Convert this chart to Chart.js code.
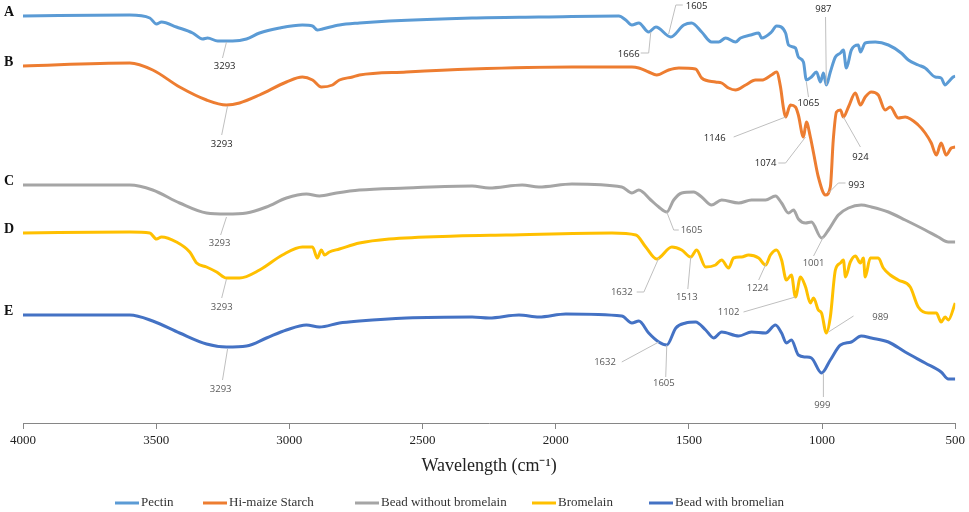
<!DOCTYPE html>
<html>
<head>
<meta charset="utf-8">
<script src="https://cdn.jsdelivr.net/npm/chart.js@4.4.0/dist/chart.umd.min.js"></script>
<style>
    html, body { margin: 0; padding: 0; background: #fff; }
    #wrap { width: 969px; height: 512px; position: relative; }
</style>
</head>
<body>
<div id="wrap"><canvas id="ftir"></canvas></div>
<script>
// wavenumber (cm-1) / relative transmittance (stacked, arbitrary units)
var pectinWn = [4000, 3599, 3524, 3499, 3480, 3424, 3363, 3326, 3307, 3269, 3213, 3161, 3112, 3037, 2951, 2913, 2895, 2876, 2812, 2737, 2625, 2314, 2063, 1763, 1737, 1714, 1688, 1651, 1624, 1568, 1519, 1490, 1452, 1415, 1388, 1362, 1325, 1306, 1268, 1238, 1227, 1190, 1171, 1137, 1126, 1100, 1089, 1070, 1059, 1040, 1021, 1006, 995, 984, 969, 950, 931, 920, 909, 890, 864, 856, 838, 800, 751, 703, 676, 639, 613, 575, 553, 538, 526, 508, 500];
var pectinT = [407, 408, 405, 399, 401, 396, 390, 384, 385, 382, 382, 384, 390, 395, 398, 397, 393, 394, 398, 400, 402, 405, 406, 407, 403, 398, 400, 391, 396, 386, 398, 400, 391, 381, 381, 385, 381, 385, 388, 390, 385, 391, 397, 390, 378, 375, 366, 361, 343, 346, 351, 341, 350, 338, 351, 366, 370, 373, 355, 373, 378, 371, 380, 381, 378, 370, 363, 358, 355, 346, 345, 338, 341, 346, 347];

var starchWn = [4000, 3599, 3513, 3412, 3311, 3236, 3187, 3112, 3011, 2951, 2913, 2880, 2838, 2812, 2763, 2737, 2561, 2314, 1939, 1714, 1688, 1651, 1621, 1576, 1538, 1475, 1452, 1400, 1377, 1351, 1325, 1287, 1250, 1227, 1190, 1171, 1156, 1145, 1137, 1119, 1100, 1089, 1070, 1059, 1044, 1032, 1014, 987, 969, 958, 946, 931, 920, 901, 875, 856, 838, 815, 789, 763, 744, 714, 688, 639, 613, 590, 571, 553, 534, 515, 500];
var starchT = [357, 360, 353, 336, 323, 318, 320, 328, 341, 346, 343, 336, 338, 343, 346, 348, 351, 354, 356, 356, 355, 351, 348, 353, 355, 354, 345, 341, 340, 335, 333, 338, 343, 343, 348, 351, 336, 315, 306, 318, 316, 308, 286, 301, 286, 270, 246, 228, 236, 283, 311, 313, 306, 316, 330, 318, 326, 331, 328, 313, 316, 305, 306, 298, 290, 280, 268, 280, 268, 275, 276];

var beadWn = [4000, 3599, 3513, 3412, 3311, 3236, 3161, 3086, 3011, 2936, 2887, 2823, 2737, 2561, 2314, 2250, 2126, 2063, 1939, 1752, 1714, 1688, 1643, 1613, 1583, 1557, 1527, 1482, 1452, 1415, 1377, 1313, 1265, 1212, 1175, 1152, 1126, 1107, 1089, 1062, 1040, 1002, 976, 939, 901, 853, 815, 751, 688, 613, 564, 526, 500];
var beadT = [238, 238, 233, 220, 210, 209, 210, 216, 225, 229, 227, 230, 233, 235, 237, 235, 238, 236, 239, 236, 230, 233, 223, 216, 211, 223, 230, 231, 226, 218, 223, 220, 223, 223, 227, 220, 210, 213, 204, 200, 201, 185, 193, 208, 215, 218, 216, 211, 203, 193, 186, 181, 181];

var bromelainWn = [4000, 3599, 3524, 3499, 3480, 3424, 3374, 3348, 3311, 3273, 3236, 3187, 3112, 3026, 2951, 2913, 2895, 2880, 2868, 2850, 2812, 2737, 2625, 2374, 2186, 1789, 1699, 1662, 1621, 1564, 1527, 1493, 1471, 1437, 1400, 1377, 1351, 1332, 1302, 1276, 1238, 1212, 1194, 1171, 1152, 1134, 1115, 1100, 1081, 1062, 1044, 1032, 1014, 1002, 984, 969, 950, 931, 920, 912, 894, 875, 856, 845, 838, 819, 789, 770, 744, 714, 669, 639, 601, 571, 553, 538, 526, 500];
var bromelainT = [190, 191, 190, 184, 186, 181, 171, 160, 156, 151, 145, 145, 153, 168, 176, 176, 165, 173, 168, 171, 174, 180, 184, 187, 188, 190, 188, 176, 164, 176, 173, 166, 173, 156, 158, 163, 155, 165, 166, 168, 165, 158, 168, 173, 163, 143, 148, 126, 146, 136, 120, 125, 113, 110, 90, 106, 153, 160, 163, 146, 161, 167, 160, 165, 146, 165, 165, 155, 148, 143, 136, 116, 110, 110, 101, 106, 103, 120];

var beadBromWn = [4000, 3599, 3513, 3412, 3311, 3236, 3161, 3086, 3011, 2936, 2887, 2812, 2737, 2561, 2314, 2250, 2138, 2063, 1962, 1752, 1714, 1688, 1651, 1613, 1583, 1549, 1512, 1475, 1437, 1407, 1377, 1313, 1265, 1212, 1175, 1152, 1134, 1115, 1089, 1062, 1040, 1002, 969, 931, 890, 853, 815, 751, 688, 613, 553, 526, 500];
var beadBromT = [108, 108, 102, 90, 79, 76, 77, 85, 93, 98, 96, 100, 102, 105, 106, 105, 108, 106, 109, 107, 100, 102, 90, 81, 78, 95, 100, 101, 93, 85, 91, 87, 91, 90, 98, 90, 80, 83, 68, 66, 65, 50, 63, 78, 81, 87, 85, 81, 71, 60, 51, 44, 44];

var seriesNames = ['Pectin', 'Hi-maize Starch', 'Bead without bromelain', 'Bromelain', 'Bead with bromelian'];
var seriesLetters = ['A', 'B', 'C', 'D', 'E'];
var xTicks = [4000, 3500, 3000, 2500, 2000, 1500, 1000, 500];

// peak labels: serie, texto, posicao do texto [wn, T], linha guia [[wn, T], ...]
var peakLabels = [
    [0, '3293', [3243, 357], [[3236, 381], [3251, 365]]],
    [0, '1666', [1726, 369], [[1643, 391], [1651, 370], [1681, 370]]],
    [0, '1605', [1471, 417], [[1576, 389], [1549, 418], [1523, 418]]],
    [0, '987', [995, 414], [[987, 406], [984, 338]]],
    [0, '1065', [1051, 320], [[1059, 341], [1051, 326]]],
    [1, '3293', [3254, 279], [[3232, 317], [3254, 288]]],
    [1, '1146', [1403, 285], [[1332, 286], [1137, 306]]],
    [1, '1074', [1212, 260], [[1164, 260], [1137, 260], [1062, 286]]],
    [1, '924', [856, 266], [[920, 306], [856, 276]]],
    [1, '993', [871, 238], [[976, 230], [939, 240], [912, 240]]],
    [2, '3293', [3262, 180], [[3236, 206], [3258, 188]]],
    [2, '1605', [1490, 193], [[1583, 211], [1557, 193], [1538, 193]]],
    [2, '1001', [1032, 160], [[995, 186], [1032, 167]]],
    [3, '3293', [3254, 116], [[3236, 144], [3254, 125]]],
    [3, '1632', [1752, 131], [[1696, 131], [1669, 131], [1613, 165]]],
    [3, '1513', [1508, 126], [[1493, 166], [1504, 134]]],
    [3, '1224', [1242, 135], [[1209, 160], [1238, 143]]],
    [3, '1102', [1351, 111], [[1295, 111], [1100, 126]]],
    [3, '989', [781, 106], [[976, 91], [882, 107]]],
    [4, '3293', [3258, 34], [[3232, 74], [3251, 43]]],
    [4, '1632', [1815, 61], [[1752, 61], [1613, 81]]],
    [4, '1605', [1594, 40], [[1583, 78], [1587, 46]]],
    [4, '999', [999, 18], [[995, 50], [995, 26]]]
];

var _cores = ['#5B9BD5', '#ED7D31', '#A5A5A5', '#FFC000', '#4472C4'];
var _legendaX = [115, 203, 355, 532, 649];

function montaPontos(wn, t) {
    var pts = [];
    for (var i = 0; i < wn.length; i++) pts.push({ x: wn[i], y: t[i] });
    return pts;
}

var _todos = [
    montaPontos(pectinWn, pectinT),
    montaPontos(starchWn, starchT),
    montaPontos(beadWn, beadT),
    montaPontos(bromelainWn, bromelainT),
    montaPontos(beadBromWn, beadBromT)
];

var _datasets = _todos.map(function (pts, i) {
    return {
        label: seriesNames[i],
        data: pts,
        borderColor: _cores[i],
        backgroundColor: _cores[i],
        borderWidth: 3,
        pointRadius: 0,
        fill: false,
        cubicInterpolationMode: 'monotone'
    };
});

var pluginExtras = {
    id: 'extras',
    afterDatasetsDraw: function (chart) {
        var ctx = chart.ctx;
        var sx = chart.scales.x, sy = chart.scales.y;
        ctx.save();

        // letras A-E
        ctx.font = 'bold 14px "Liberation Serif"';
        ctx.fillStyle = '#111';
        ctx.textAlign = 'left';
        ctx.textBaseline = 'middle';
        _todos.forEach(function (pts, i) {
            ctx.fillText(seriesLetters[i], 4, sy.getPixelForValue(pts[0].y) - 4);
        });

        // picos
        ctx.font = '9.5px "Open Sans"';
        ctx.textAlign = 'center';
        peakLabels.forEach(function (p) {
            ctx.strokeStyle = '#BFBFBF';
            ctx.lineWidth = 1;
            ctx.beginPath();
            p[3].forEach(function (q, k) {
                var px = sx.getPixelForValue(q[0]), py = sy.getPixelForValue(q[1]);
                if (k == 0) ctx.moveTo(px, py); else ctx.lineTo(px, py);
            });
            ctx.stroke();
            ctx.fillStyle = p[0] < 2 ? '#262626' : '#595959';
            ctx.fillText(p[1], sx.getPixelForValue(p[2][0]), sy.getPixelForValue(p[2][1]));
        });

        // legenda
        ctx.font = '13px "Liberation Serif"';
        ctx.textAlign = 'left';
        ctx.fillStyle = '#333';
        var ly = 503;
        chart.data.datasets.forEach(function (ds, i) {
            var x0 = _legendaX[i];
            ctx.strokeStyle = ds.borderColor;
            ctx.lineWidth = 3;
            ctx.beginPath();
            ctx.moveTo(x0, ly);
            ctx.lineTo(x0 + 24, ly);
            ctx.stroke();
            ctx.fillText(ds.label, x0 + 26, ly);
        });
        ctx.restore();
    }
};

new Chart(document.getElementById('ftir'), {
    type: 'line',
    data: { datasets: _datasets },
    options: {
        responsive: true,
        maintainAspectRatio: false,
        animation: false,
        layout: { padding: { left: 23, right: 12, top: 8, bottom: 0 } },
        plugins: {
            legend: { display: false },
            tooltip: { enabled: false }
        },
        scales: {
            x: {
                type: 'linear',
                min: 500,
                max: 4000,
                reverse: true,
                afterBuildTicks: function (scale) {
                    scale.ticks = xTicks.map(function (v) { return { value: v }; });
                },
                afterFit: function (scale) { scale.height = 89; },
                ticks: {
                    padding: 4,
                    color: '#222',
                    font: { family: '"Liberation Serif"', size: 13 },
                    callback: function (v) { return String(v); }
                },
                grid: { drawOnChartArea: false, drawTicks: true, tickLength: 6, color: '#868686' },
                border: { color: '#868686', width: 1 },
                title: {
                    display: true,
                    text: 'Wavelength (cm⁻¹)',
                    color: '#222',
                    font: { family: '"Liberation Serif"', size: 18 },
                    padding: { top: 0, bottom: 35 }
                }
            },
            y: {
                type: 'linear',
                display: false,
                min: 0,
                max: 415
            }
        }
    },
    plugins: [pluginExtras]
});
</script>
</body>
</html>
